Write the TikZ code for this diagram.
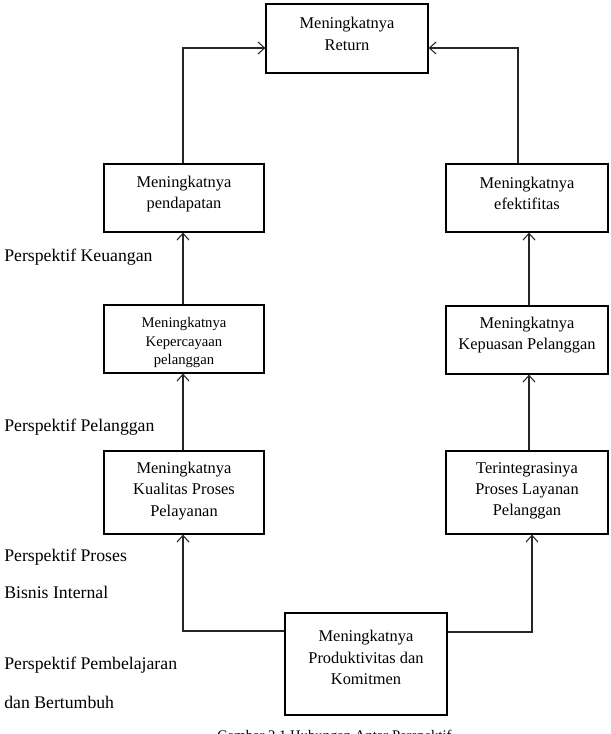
\documentclass[tikz,border=0pt]{standalone}
\usepackage{fontspec}
\setmainfont{Liberation Serif}
\usetikzlibrary{arrows.meta}
\begin{document}
\begin{tikzpicture}[x=0.75pt,y=-0.75pt,
  box/.style={draw=black,line width=0.9pt,rectangle,inner sep=0pt},
  txt/.style={align=center,inner sep=0pt,font=\fontsize{12.3}{16}\selectfont},
  small/.style={align=center,inner sep=0pt,font=\fontsize{11}{14.2}\selectfont},
  lbl/.style={anchor=west,inner sep=0pt,font=\fontsize{13.3}{16}\selectfont},
  conn/.style={draw=black!85,line width=0.8pt,-{Straight Barb[length=5pt,width=9pt,line width=0.8pt]}}]
\useasboundingbox (0,0) rectangle (610,734);
\clip (0,0) rectangle (610,734);
% boxes
\node[box,minimum width=162*0.75pt,minimum height=69*0.75pt] (ret) at (347,38.5) {};
\node[box,minimum width=160*0.75pt,minimum height=68*0.75pt] (pend) at (184,198) {};
\node[box,minimum width=162*0.75pt,minimum height=68*0.75pt] (efek) at (527,198) {};
\node[box,minimum width=160*0.75pt,minimum height=68*0.75pt] (perc) at (184,339) {};
\node[box,minimum width=162*0.75pt,minimum height=68*0.75pt] (puas) at (527,340) {};
\node[box,minimum width=160*0.75pt,minimum height=83*0.75pt] (kual) at (184,492.5) {};
\node[box,minimum width=162*0.75pt,minimum height=83*0.75pt] (tint) at (527,492.5) {};
\node[box,minimum width=162*0.75pt,minimum height=102*0.75pt] (prod) at (366,664) {};
% texts
\node[txt] (retT) at (347,34) {Meningkatnya\\Return};
\node[txt] (pendT) at (184,194) {Meningkatnya\\pendapatan};
\node[txt] (efekT) at (527,193.5) {Meningkatnya\\efektifitas};
\node[small] (percT) at (184,342.5) {Meningkatnya\\Kepercayaan\\pelanggan};
\node[txt] (puasT) at (527,335) {Meningkatnya\\Kepuasan Pelanggan};
\node[txt] (kualT) at (184,491) {Meningkatnya\\Kualitas Proses\\Pelayanan};
\node[txt] (tintT) at (527,491) {Terintegrasinya\\Proses Layanan\\Pelanggan};
\node[txt] (prodT) at (366,657.5) {Meningkatnya\\Produktivitas dan\\Komitmen};
% side labels
\node[lbl] (l1) at (4,257) {Perspektif Keuangan};
\node[lbl] (l2) at (4,427) {Perspektif Pelanggan};
\node[lbl] (l3) at (4,557) {Perspektif Proses};
\node[lbl] (l4) at (4,592) {Bisnis Internal};
\node[lbl] (l5) at (4,665) {Perspektif Pembelajaran};
\node[lbl] (l6) at (4,702) {dan Bertumbuh};
% caption (cut by page edge)
\node[anchor=base west,inner sep=0pt,font=\fontsize{11}{13}\selectfont] (cap) at (217,740) {Gambar 2.1 Hubungan Antar Perspektif};
% helper coordinates
\coordinate (yTop) at (0,48);
\coordinate (xL) at (183,0);
\coordinate (xR1) at (518,0);
\coordinate (xR2) at (529,0);
\coordinate (xR3) at (532,0);
\coordinate (yBL) at (0,631);
\coordinate (yBR) at (0,632);
% connectors
\draw[conn] (pend.north -| xL) |- (ret.west |- yTop);
\draw[conn] (efek.north -| xR1) |- (ret.east |- yTop);
\draw[conn] (perc.north -| xL) -- (pend.south -| xL);
\draw[conn] (kual.north -| xL) -- (perc.south -| xL);
\draw[conn] (puas.north -| xR2) -- (efek.south -| xR2);
\draw[conn] (tint.north -| xR2) -- (puas.south -| xR2);
\draw[conn] (prod.west |- yBL) -| (kual.south -| xL);
\draw[conn] (prod.east |- yBR) -| (tint.south -| xR3);
\end{tikzpicture}
\end{document}
